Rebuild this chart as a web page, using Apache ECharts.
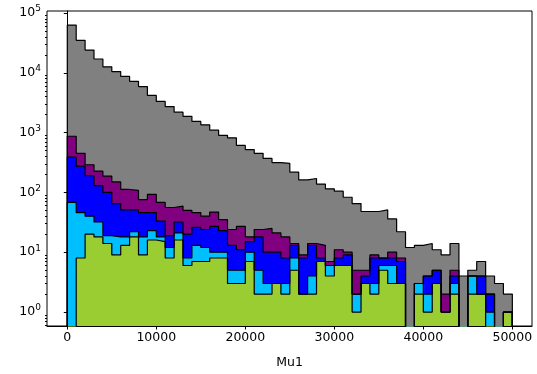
<!DOCTYPE html>
<html>
<head>
<meta charset="utf-8">
<script src="https://cdn.jsdelivr.net/npm/echarts@6/dist/echarts.min.js"></script>
<style>
  html, body { margin: 0; padding: 0; background: #fff; }
  #chart { width: 537px; height: 374px; }
</style>
</head>
<body>
<div id="chart"></div>
<script>
// histogram of Mu1, 50 bins of 1000, five stacked groups (counts per bin)
var binWidth = 1000;
var binCount = 50;

var green  = [0, 8, 20, 18, 14, 9, 13, 18, 9, 16,
              15, 8, 16, 6, 7, 7, 8, 8, 3, 3,
              7, 2, 2, 3, 2, 5, 2, 2, 7, 4,
              6, 6, 1, 3, 2, 5, 3, 3, 0, 2,
              1, 3, 1, 2, 0, 2, 2, 0, 0, 1];
var sky    = [68, 38, 20, 14, 5, 9, 5, 4, 9, 7,
              3, 4, 5, 2, 6, 5, 2, 2, 2, 2,
              3, 3, 1, 0, 1, 3, 0, 2, 0, 2,
              0, 0, 1, 0, 1, 1, 3, 0, 0, 1,
              1, 0, 0, 1, 0, 2, 0, 1, 0, 0];
var blue   = [322, 229, 150, 98, 81, 47, 33, 29, 28, 23,
              15, 7, 11, 12, 13, 12, 17, 13, 8, 6,
              5, 13, 7, 7, 5, 5, 6, 9, 1, 0,
              2, 3, 0, 1, 5, 2, 2, 4, 0, 0,
              2, 2, 0, 1, 0, 0, 2, 1, 0, 0];
var purple = [480, 175, 100, 97, 87, 85, 61, 57, 30, 47,
              35, 37, 27, 30, 20, 16, 20, 12, 11, 16,
              3, 6, 15, 11, 10, 1, 1, 1, 5, 1,
              3, 1, 3, 1, 1, 0, 2, 1, 0, 0,
              0, 0, 1, 1, 0, 0, 0, 0, 0, 0];
var gray   = [62000, 34500, 23700, 16800, 12400, 10350, 8600, 7100, 5800, 4100,
              3260, 2670, 2140, 1820, 1490, 1310, 1050, 865, 795, 583,
              502, 426, 345, 294, 287, 204, 153, 157, 125, 108,
              94, 73, 60, 43, 39, 43, 26, 14, 12, 10,
              10, 6, 7, 9, 4, 1, 3, 2, 3, 1];

var xTicks = [0, 10000, 20000, 30000, 40000, 50000];
var yMajor = [1, 10, 100, 1000, 10000, 100000];
var yMinor = [];
for (var e = -1; e < 5; e++) {
  for (var m = 2; m < 10; m++) yMinor.push(m * Math.pow(10, e));
}

var layers = [green, sky, blue, purple, gray];
var colors = ['#9acd32', '#00bfff', '#0000ff', '#800080', '#808080'];
var floorValue = 0.1;   // empty bins drop below the axis

function stepData(upto) {
  var pts = [[0, floorValue]];
  for (var i = 0; i < binCount; i++) {
    var s = 0;
    for (var k = 0; k <= upto; k++) s += layers[k][i];
    pts.push([i * binWidth, Math.max(s, floorValue)]);
  }
  pts.push([binCount * binWidth, floorValue]);
  return pts;
}

var series = [];
for (var k = layers.length - 1; k >= 0; k--) {
  series.push({
    type: 'line',
    step: 'end',
    data: stepData(k),
    showSymbol: false,
    symbol: 'none',
    lineStyle: { color: '#000', width: 1.2 },
    areaStyle: { color: colors[k], opacity: 1, origin: 'start' },
    clip: true
  });
}

var font = 'DejaVu Sans';
var myChart = echarts.init(document.getElementById('chart'));
var option = {
  animation: false,
  grid: { left: 47, right: 5, top: 11, bottom: 47, show: true, borderColor: '#000', borderWidth: 1 },
  xAxis: {
    type: 'value', min: -2280, max: 52210,
    splitLine: { show: false },
    axisLine: { show: true, onZero: false, lineStyle: { color: '#000', width: 1 } },
    axisTick: { show: true, length: 3.5, customValues: xTicks, lineStyle: { color: '#000' } },
    axisLabel: {
      customValues: xTicks, color: '#000', fontSize: 12.5, fontFamily: font, margin: 5,
      formatter: function (v) { return String(v); }
    },
    name: 'Mu1', nameLocation: 'middle', nameGap: 30,
    nameTextStyle: { color: '#000', fontSize: 12.5, fontFamily: font }
  },
  yAxis: [{
    type: 'log', logBase: 10, min: 0.584, max: 108000,
    splitLine: { show: false },
    axisLine: { show: true, lineStyle: { color: '#000', width: 1 } },
    axisTick: { show: true, length: 3.5, customValues: yMajor, lineStyle: { color: '#000' } },
    axisLabel: {
      customValues: yMajor, margin: 6,
      formatter: function (v) { return '{b|10}{s|' + Math.round(Math.log10(v)) + '}'; },
      rich: {
        b: { fontSize: 12.5, fontFamily: font, color: '#000' },
        s: { fontSize: 9, fontFamily: font, color: '#000', padding: [0, 0, 8, 0] }
      }
    }
  }, {
    type: 'log', logBase: 10, min: 0.584, max: 108000, position: 'left',
    splitLine: { show: false },
    axisLine: { show: false },
    axisTick: { show: true, length: 2, customValues: yMinor, lineStyle: { color: '#000' } },
    axisLabel: { show: false }
  }],
  series: series
};
myChart.setOption(option);
</script>
</body>
</html>
